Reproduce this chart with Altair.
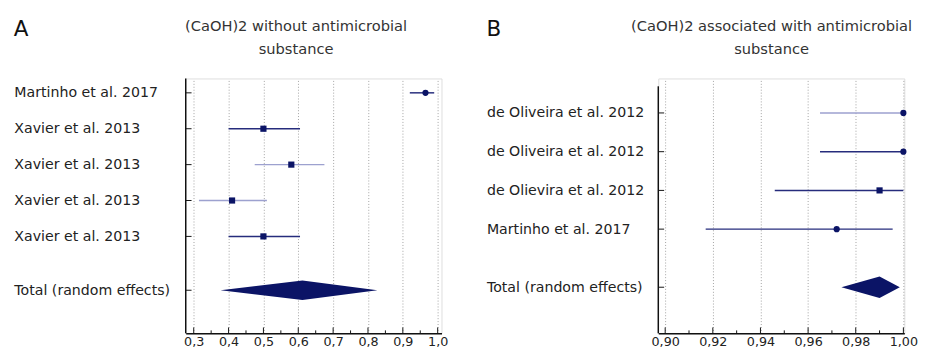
import altair as alt
import pandas as pd

# ---------------- data ----------------
TOTAL_LABEL = "Total (random effects)"

A_STUDIES = ["Martinho et al. 2017", "Xavier et al. 2013", "Xavier et al. 2013",
             "Xavier et al. 2013", "Xavier et al. 2013"]
A_EST = [0.965, 0.50, 0.58, 0.41, 0.50]
A_LO = [0.92, 0.40, 0.475, 0.315, 0.40]
A_HI = [0.99, 0.605, 0.675, 0.51, 0.605]
A_TOTAL = [0.377, 0.612, 0.827]          # lower, estimate, upper
A_TICKS = [0.3, 0.4, 0.5, 0.6, 0.7, 0.8, 0.9, 1.0]
A_TITLE = ["(CaOH)2 without antimicrobial", "substance"]

B_STUDIES = ["de Oliveira et al. 2012", "de Oliveira et al. 2012",
             "de Olievira et al. 2012", "Martinho et al. 2017"]
B_EST = [1.000, 1.000, 0.990, 0.972]
B_LO = [0.965, 0.965, 0.946, 0.917]
B_HI = [1.000, 1.000, 1.000, 0.9955]
B_TOTAL = [0.974, 0.990, 0.9985]
B_TICKS = [0.90, 0.92, 0.94, 0.96, 0.98, 1.00]
B_TITLE = ["(CaOH)2 associated with antimicrobial", "substance"]

# ---------------- style ----------------
FONT = "DejaVu Sans"
NAVY = "#0b1466"
DARK_LINE = "#262c7c"
LIGHT_LINE = "#9da1cf"
AXIS_COL = "#111111"
LABEL_OFFSET = 176


def forest(studies, est, lo, hi, total, x_domain, x_ticks, decimals, title_lines,
           letter, width, height, y_domain, half_h, light_rows, square_rows, axis_top,
           title_cx):
    n = len(studies)
    rows = list(range(n))
    total_pos = n + 0.5
    df = pd.DataFrame({"row": rows, "study": studies, "est": est, "lo": lo, "hi": hi})

    arr = "[" + ",".join("'" + s + "'" for s in studies) + "]"
    y_label_expr = f"datum.value == {total_pos} ? '{TOTAL_LABEL}' : {arr}[datum.value]"
    x_label_expr = f"replace(format(datum.value, '.{decimals}f'), '.', ',')"

    xscale = alt.Scale(domain=x_domain, nice=False, zero=False)
    yscale = alt.Scale(domain=y_domain, reverse=True, nice=False, zero=False)
    xaxis = alt.Axis(values=x_ticks, labelExpr=x_label_expr, title=None, grid=True,
                     gridDash=[1, 2], gridColor="#a0a0a0", gridWidth=1, ticks=False,
                     tickSize=0, labelPadding=3, labelFont=FONT, labelFontSize=13,
                     labelColor="#222222", domainColor=AXIS_COL, domainWidth=1.5,
                     labelFlush=False)
    yaxis = alt.Axis(values=rows + [total_pos], labelExpr=y_label_expr, title=None,
                     grid=False, ticks=False, tickSize=0, labelAlign="left",
                     labelBaseline="middle", labelPadding=LABEL_OFFSET, labelFont=FONT,
                     labelFontSize=14.5, labelColor="#222222", labelLimit=400,
                     domain=False)

    def X(field):
        return alt.X(field, type="quantitative", scale=xscale, axis=xaxis)

    def Y(field):
        return alt.Y(field, type="quantitative", scale=yscale, axis=yaxis)

    light_test = "indexof(" + str(light_rows) + ", datum.row) >= 0"
    square_test = "indexof(" + str(square_rows) + ", datum.row) >= 0"

    ci = alt.Chart(df).mark_rule(strokeWidth=1.5).encode(
        x=X("lo"), x2="hi", y=Y("row"),
        color=alt.condition(light_test, alt.value(LIGHT_LINE), alt.value(DARK_LINE)),
    )
    pts = alt.Chart(df).mark_point(filled=True, opacity=1, color=NAVY, size=40).encode(
        x=X("est"), y=Y("row"),
        shape=alt.condition(square_test, alt.value("square"), alt.value("circle")),
    )

    dia_df = pd.DataFrame({
        "x": [total[0], total[1], total[2]],
        "yt": [total_pos, total_pos - half_h, total_pos],
        "yb": [total_pos, total_pos + half_h, total_pos],
    })
    diamond = alt.Chart(dia_df).mark_area(color=NAVY, orient="vertical", opacity=1).encode(
        x=X("x"), y=Y("yt"), y2="yb"
    )

    # inward axis ticks
    ytick_df = pd.DataFrame({"row": rows + [total_pos]})
    yticks = alt.Chart(ytick_df).mark_rule(color=AXIS_COL, strokeWidth=1).encode(
        y=Y("row"), x=alt.value(0), x2=alt.value(6)
    )
    major_df = pd.DataFrame({"t": x_ticks})
    minor_df = pd.DataFrame({"t": [(a + b) / 2 for a, b in zip(x_ticks[:-1], x_ticks[1:])]})
    xmajor = alt.Chart(major_df).mark_rule(color=AXIS_COL, strokeWidth=1).encode(
        x=X("t"), y=alt.value(height), y2=alt.value(height - 6)
    )
    xminor = alt.Chart(minor_df).mark_rule(color=AXIS_COL, strokeWidth=1).encode(
        x=X("t"), y=alt.value(height), y2=alt.value(height - 3)
    )
    ydomain = alt.Chart(pd.DataFrame({"d": [0]})).mark_rule(
        color=AXIS_COL, strokeWidth=1.5).encode(
        x=alt.value(0), y=alt.value(axis_top), y2=alt.value(height)
    )
    letter_mark = alt.Chart(pd.DataFrame({"s": [letter]})).mark_text(
        align="left", baseline="middle", fontSize=22, font=FONT, color="#111111"
    ).encode(x=alt.value(-LABEL_OFFSET), y=alt.value(-50), text="s:N")

    title1 = alt.Chart(pd.DataFrame({"s": [title_lines[0]]})).mark_text(
        align="center", baseline="middle", fontSize=15, font=FONT, color="#333333"
    ).encode(x=alt.value(title_cx), y=alt.value(-54), text="s:N")
    title2 = alt.Chart(pd.DataFrame({"s": [title_lines[1]]})).mark_text(
        align="center", baseline="middle", fontSize=15, font=FONT, color="#333333"
    ).encode(x=alt.value(title_cx), y=alt.value(-30), text="s:N")

    return alt.layer(ci, diamond, pts, yticks, xmajor, xminor, ydomain, letter_mark,
                     title1, title2).properties(width=width, height=height)


chart_a = forest(A_STUDIES, A_EST, A_LO, A_HI, A_TOTAL, [0.277, 1.011], A_TICKS, 1,
                 A_TITLE, "A", 262, 261, [-0.4, 6.7], 0.27, [2, 3], [1, 2, 3, 4], 0, 113)
chart_b = forest(B_STUDIES, B_EST, B_LO, B_HI, B_TOTAL, [0.8971, 1.0004], B_TICKS, 2,
                 B_TITLE, "B", 252, 261, [-0.89, 5.69], 0.28, [0], [2], 8, 116)

chart = alt.hconcat(chart_a, chart_b, spacing=38).properties(
    padding={"left": 5, "top": 6, "right": 0, "bottom": 0}
).configure_view(stroke=None).configure(background="white")

chart.save("out.html", embed_options={"renderer": "svg", "actions": False})
